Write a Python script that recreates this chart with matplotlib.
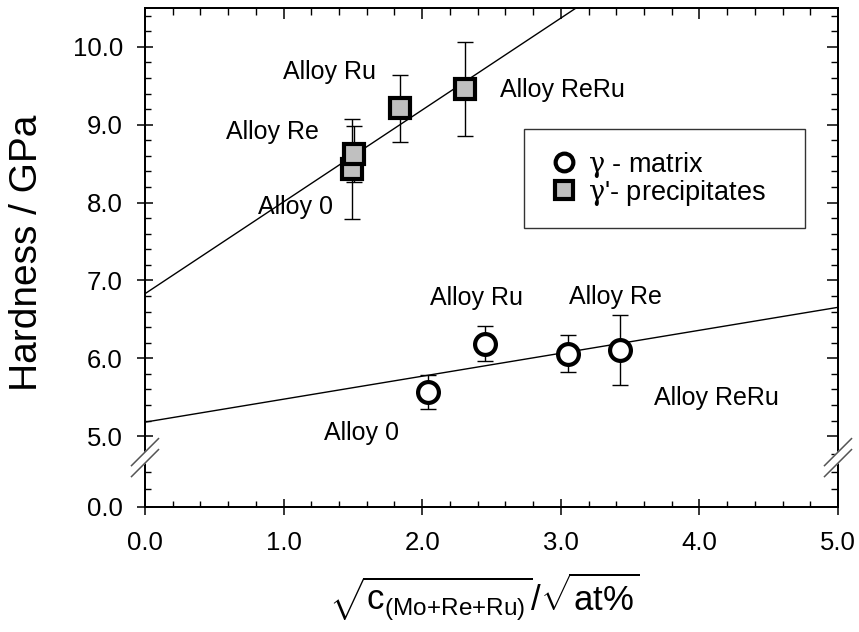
import numpy as np
import matplotlib.pyplot as plt
from matplotlib.font_manager import FontProperties
from matplotlib.ticker import FormatStrFormatter

plt.rcParams['font.family'] = ['Liberation Sans', 'DejaVu Sans']
plt.rcParams['mathtext.fontset'] = 'custom'
plt.rcParams['mathtext.rm'] = 'Liberation Sans'
plt.rcParams['mathtext.it'] = 'Liberation Sans:italic'
plt.rcParams['mathtext.bf'] = 'Liberation Sans:bold'

# gamma matrix (circles)
alloys_matrix = ['Alloy 0', 'Alloy Ru', 'Alloy Re', 'Alloy ReRu']
matrix_x = [2.04, 2.45, 3.05, 3.43]
matrix_y = [5.57, 6.19, 6.06, 6.11]
matrix_err = [0.22, 0.22, 0.24, 0.45]

# gamma' precipitates (squares)
alloys_prec = ['Alloy 0', 'Alloy Re', 'Alloy Ru', 'Alloy ReRu']
prec_x = [1.49, 1.51, 1.84, 2.31]
prec_y = [8.43, 8.62, 9.21, 9.46]
prec_err = [0.64, 0.36, 0.43, 0.60]

# linear fits (intercept, slope)
fit_matrix = (5.18, 0.295)
fit_prec = (6.83, 1.18)

x_ticks = [0, 1, 2, 3, 4, 5]
y_ticks = [0, 5, 6, 7, 8, 9, 10]

# label offsets in points, relative to each point
matrix_label_off = [(-48, -30), (-6, 33), (34, 41), (69, -35)]
prec_label_off = [(-40, -27), (-59, 16), (-51, 26), (70, -1)]

# broken y axis: 0..5 squeezed
R = 0.182


def fwd(y):
    y = np.asarray(y, dtype=float)
    return np.where(y <= 5, y * R, 5 * R + (y - 5))


def inv(t):
    t = np.asarray(t, dtype=float)
    return np.where(t <= 5 * R, t / R, t - 5 * R + 5)


y_minor = [1.25, 2.5, 3.75] + list(np.arange(5.2, 10.5, 0.2))
x_minor = np.arange(0, 5.01, 0.2)

fig = plt.figure(figsize=(8.59, 6.32), dpi=100)
ax = fig.add_axes([145 / 859, 125 / 632, 693 / 859, 499 / 632])
ax.set_yscale('function', functions=(fwd, inv))
ax.set_xlim(0, 5)
ax.set_ylim(0, 10.5)

# fit lines
xx = np.array([0.0, 5.0])
ax.plot(xx, fit_matrix[0] + fit_matrix[1] * xx, color='black', lw=1, zorder=2)
ax.plot(xx, fit_prec[0] + fit_prec[1] * xx, color='black', lw=1, zorder=2)

eb_m = ax.errorbar(matrix_x, matrix_y, yerr=matrix_err, fmt='o', ms=15,
                   mfc='white', mec='black', mew=3, ecolor='black',
                   elinewidth=1, capsize=5.5, zorder=3)
eb_p = ax.errorbar(prec_x, prec_y, yerr=prec_err, fmt='s', ms=15,
                   mfc='#c0c0c0', mec='black', mew=3, ecolor='black',
                   elinewidth=1, capsize=5.5, zorder=3)
for eb in (eb_m, eb_p):
    for cap in eb[1]:
        cap.set_markeredgewidth(1)

for name, x, y, off in zip(alloys_matrix, matrix_x, matrix_y, matrix_label_off):
    ax.annotate(name, (x, y), xytext=off, textcoords='offset points',
                ha='center', va='center', fontsize=18)
for name, x, y, off in zip(alloys_prec, prec_x, prec_y, prec_label_off):
    ax.annotate(name, (x, y), xytext=off, textcoords='offset points',
                ha='center', va='center', fontsize=18)

# ticks
ax.set_xticks(x_ticks)
ax.set_xticks(x_minor, minor=True)
ax.set_yticks(y_ticks)
ax.set_yticks(y_minor, minor=True)
ax.xaxis.set_major_formatter(FormatStrFormatter('%.1f'))
ax.yaxis.set_major_formatter(FormatStrFormatter('%.1f'))
ax.tick_params(which='major', direction='inout', length=12, width=1.1,
               labelsize=18.5, top=False, right=False)
ax.tick_params(axis='x', which='major', pad=11)
ax.tick_params(axis='y', which='major', pad=10)
ax.tick_params(which='minor', direction='in', length=4, width=1,
               top=False, right=False)

# ticks on right / top, pointing in
ax_r = ax.twinx()
ax_r.set_yscale('function', functions=(fwd, inv))
ax_r.set_ylim(0, 10.5)
ax_r.set_yticks(y_ticks)
ax_r.set_yticks(y_minor, minor=True)
ax_r.tick_params(which='major', direction='in', length=8, width=1.1, labelright=False)
ax_r.tick_params(which='minor', direction='in', length=5, width=1)

ax_t = ax.twiny()
ax_t.set_xlim(0, 5)
ax_t.set_xticks(x_ticks)
ax_t.set_xticks(x_minor, minor=True)
ax_t.tick_params(which='major', direction='in', length=8, width=1.1, labeltop=False)
ax_t.tick_params(which='minor', direction='in', length=5, width=1)

for a in (ax, ax_r, ax_t):
    for s in a.spines.values():
        s.set_linewidth(1.2)

# break marks on both y spines
dx, dy = 13.5 / 693, 13.5 / 499
for xc in (0.0, 1.0):
    y_hi, y_lo = 0.110, 0.088
    ax_t.fill([xc - dx, xc + dx, xc + dx, xc - dx],
              [y_hi - dy, y_hi + dy, y_lo + dy, y_lo - dy],
              color='white', transform=ax_t.transAxes, clip_on=False, zorder=10)
    for yc in (y_hi, y_lo):
        ax_t.plot([xc - dx, xc + dx], [yc - dy, yc + dy], color='#555555',
                  lw=1.1, transform=ax_t.transAxes, clip_on=False, zorder=11)

# legend
leg_font = FontProperties(family='Liberation Sans', size=19.5, math_fontfamily='dejavuserif')
leg = ax_t.legend([eb_m[0], eb_p[0]],
                  [r'$\mathrm{\gamma}$ - matrix', r"$\mathrm{\gamma}$'- precipitates"],
                  loc='upper left', bbox_to_anchor=(0.547, 0.565, 0.405, 0.192),
                  mode='expand', prop=leg_font, markerscale=0.85,
                  fancybox=False, framealpha=1, edgecolor='#333333',
                  handletextpad=0.2, borderpad=0.76, labelspacing=-0.08,
                  handlelength=1.4, borderaxespad=0)
leg.get_frame().set_linewidth(1)

ax.set_ylabel('Hardness / GPa', fontsize=28)
ax.yaxis.set_label_coords(-0.144, 0.509)
ax.set_xlabel(r'$\sqrt{\mathrm{c}_{\mathrm{(Mo{+}Re{+}Ru)}}}/\sqrt{\mathrm{at\%}}$', fontsize=25)
ax.xaxis.set_label_coords(0.49, -0.126)

fig.savefig('out.png', dpi=100)
